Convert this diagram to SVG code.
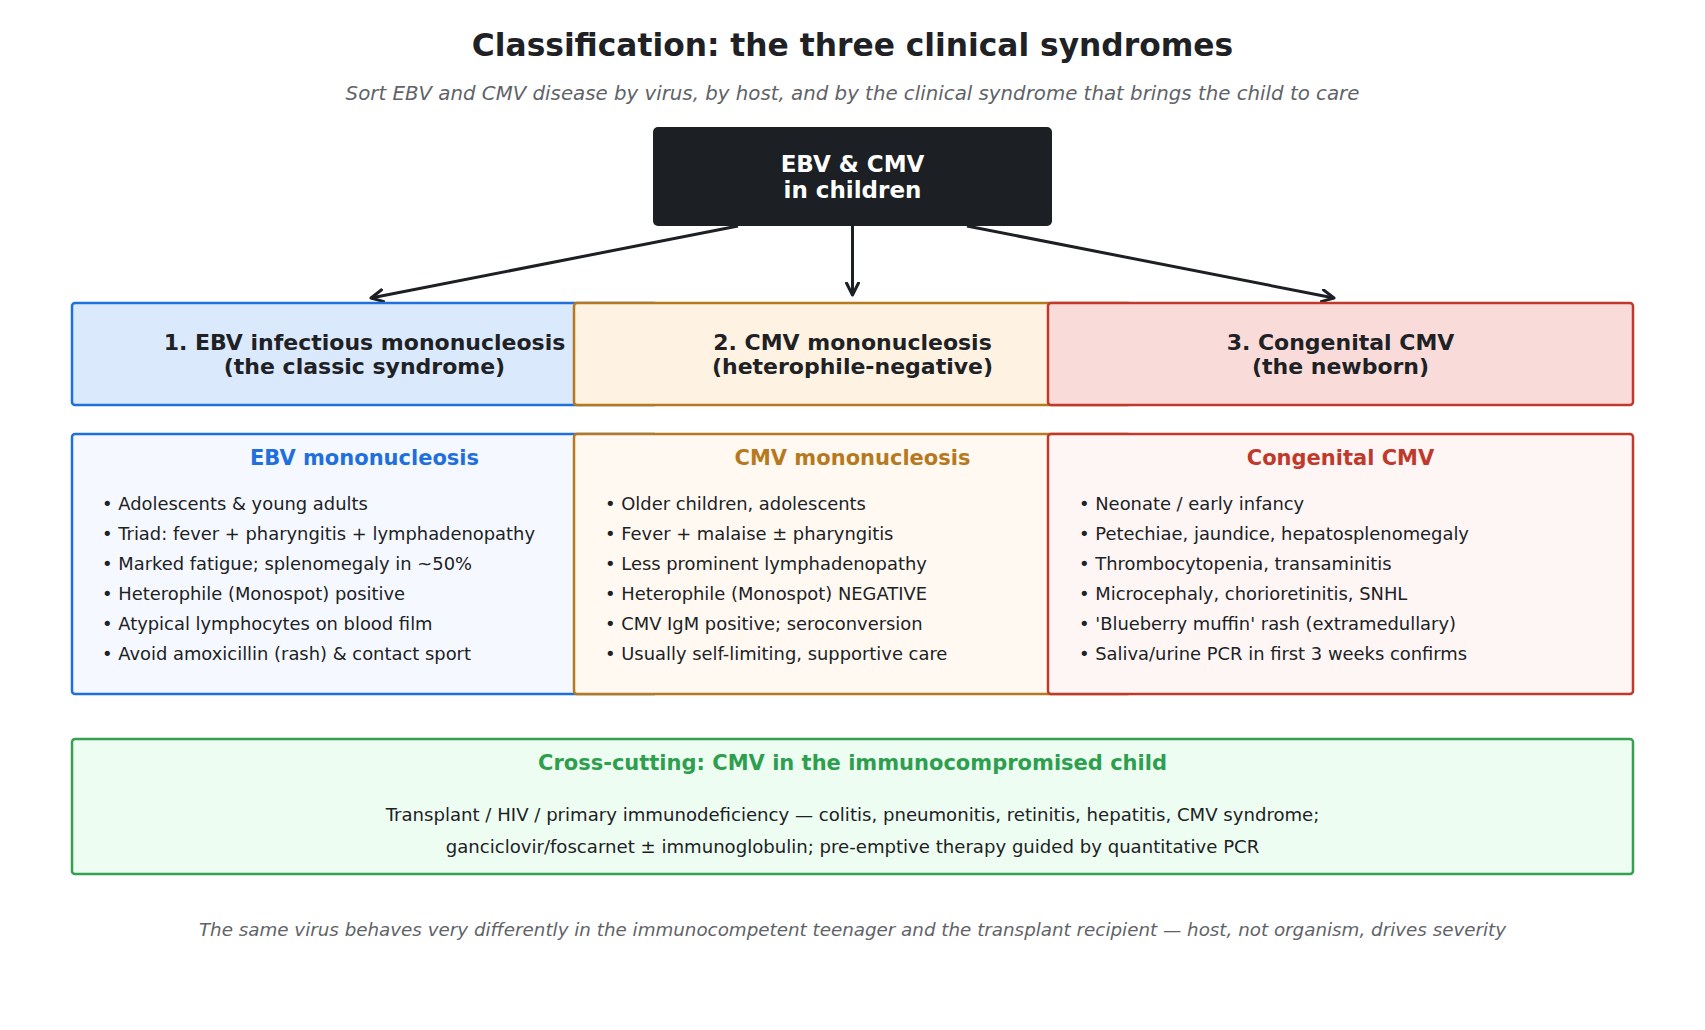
<svg xmlns="http://www.w3.org/2000/svg" width="1705" height="1030" viewBox="0 0 1705 1030">
<defs>
<marker id="arr" markerUnits="userSpaceOnUse" markerWidth="20" markerHeight="20" refX="13" refY="7" orient="auto">
<path d="M1,1 L13,7 L1,13" fill="none" stroke="#1c1f23" stroke-width="3" stroke-linecap="round" stroke-linejoin="round"/>
</marker>
</defs>
<style>
text { font-family: "DejaVu Sans", "Liberation Sans", sans-serif; }
.title { font-size: 31.3px; font-weight: bold; fill: #202124; text-anchor: middle; }
.sub { font-size: 19.8px; font-style: italic; fill: #5f6368; text-anchor: middle; }
.foot { font-size: 18.3px; font-style: italic; fill: #5f6368; text-anchor: middle; }
.root { fill: #1c1f23; }
.roott { font-size: 23px; font-weight: bold; fill: #ffffff; text-anchor: middle; }
.h1 { font-size: 22px; font-weight: bold; fill: #202124; text-anchor: middle; }
.dh { font-size: 21px; font-weight: bold; text-anchor: middle; }
.li { font-size: 17.9px; fill: #202124; }
.body { font-size: 18.1px; fill: #202124; text-anchor: middle; }
.box { stroke-width: 2.5; }
.blue { stroke: #1f6fdc; }
.orange { stroke: #b7791f; }
.red { stroke: #c0392b; }
.green { stroke: #34a050; }
.conn { stroke: #1c1f23; stroke-width: 3; fill: none; }
</style>
<rect width="1705" height="1030" fill="#ffffff"/>
<text class="title" x="852.5" y="56">Classification: the three clinical syndromes</text>
<text class="sub" x="852.5" y="100">Sort EBV and CMV disease by virus, by host, and by the clinical syndrome that brings the child to care</text>

<g id="connectors">
<path class="conn" d="M738,226 L371,298" marker-end="url(#arr)"/>
<path class="conn" d="M852.5,226 L852.5,295" marker-end="url(#arr)"/>
<path class="conn" d="M967,226 L1334,298" marker-end="url(#arr)"/>
</g>

<g id="root">
<rect class="root" x="653" y="127" width="399" height="99" rx="5"/>
<text class="roott" x="852.5" y="172">EBV &amp; CMV</text>
<text class="roott" x="852.5" y="198">in children</text>
</g>

<g id="syndrome1">
<rect class="box blue" x="72" y="303" width="585" height="102" rx="3" fill="#dbe9fd"/>
<text class="h1" x="364.5" y="350">1. EBV infectious mononucleosis</text>
<text class="h1" x="364.5" y="374">(the classic syndrome)</text>
</g>
<g id="syndrome2">
<rect class="box orange" x="574" y="303" width="557" height="102" rx="3" fill="#fef2e2"/>
<text class="h1" x="852.5" y="350">2. CMV mononucleosis</text>
<text class="h1" x="852.5" y="374">(heterophile-negative)</text>
</g>
<g id="syndrome3">
<rect class="box red" x="1048" y="303" width="585" height="102" rx="3" fill="#f9dcda"/>
<text class="h1" x="1340.5" y="350">3. Congenital CMV</text>
<text class="h1" x="1340.5" y="374">(the newborn)</text>
</g>

<g id="detail1">
<rect class="box blue" x="72" y="434" width="585" height="260" rx="3" fill="#f5f9ff"/>
<text class="dh" x="364.5" y="465" fill="#1f6fdc">EBV mononucleosis</text>
<text class="li" x="102" y="510">• Adolescents &amp; young adults</text>
<text class="li" x="102" y="540">• Triad: fever + pharyngitis + lymphadenopathy</text>
<text class="li" x="102" y="570">• Marked fatigue; splenomegaly in ~50%</text>
<text class="li" x="102" y="600">• Heterophile (Monospot) positive</text>
<text class="li" x="102" y="630">• Atypical lymphocytes on blood film</text>
<text class="li" x="102" y="660">• Avoid amoxicillin (rash) &amp; contact sport</text>
</g>
<g id="detail2">
<rect class="box orange" x="574" y="434" width="557" height="260" rx="3" fill="#fff9f2"/>
<text class="dh" x="852.5" y="465" fill="#b7791f">CMV mononucleosis</text>
<text class="li" x="605" y="510">• Older children, adolescents</text>
<text class="li" x="605" y="540">• Fever + malaise ± pharyngitis</text>
<text class="li" x="605" y="570">• Less prominent lymphadenopathy</text>
<text class="li" x="605" y="600">• Heterophile (Monospot) NEGATIVE</text>
<text class="li" x="605" y="630">• CMV IgM positive; seroconversion</text>
<text class="li" x="605" y="660">• Usually self-limiting, supportive care</text>
</g>
<g id="detail3">
<rect class="box red" x="1048" y="434" width="585" height="260" rx="3" fill="#fdf6f4"/>
<text class="dh" x="1340.5" y="465" fill="#c0392b">Congenital CMV</text>
<text class="li" x="1079" y="510">• Neonate / early infancy</text>
<text class="li" x="1079" y="540">• Petechiae, jaundice, hepatosplenomegaly</text>
<text class="li" x="1079" y="570">• Thrombocytopenia, transaminitis</text>
<text class="li" x="1079" y="600">• Microcephaly, chorioretinitis, SNHL</text>
<text class="li" x="1079" y="630">• 'Blueberry muffin' rash (extramedullary)</text>
<text class="li" x="1079" y="660">• Saliva/urine PCR in first 3 weeks confirms</text>
</g>

<g id="crosscutting">
<rect class="box green" x="72" y="739" width="1561" height="135" rx="3" fill="#edfdf1"/>
<text class="dh" x="852.5" y="770" fill="#2e9e4f">Cross-cutting: CMV in the immunocompromised child</text>
<text class="body" x="852.5" y="821">Transplant / HIV / primary immunodeficiency — colitis, pneumonitis, retinitis, hepatitis, CMV syndrome;</text>
<text class="body" x="852.5" y="853">ganciclovir/foscarnet ± immunoglobulin; pre-emptive therapy guided by quantitative PCR</text>
</g>

<text class="foot" x="852.5" y="936">The same virus behaves very differently in the immunocompetent teenager and the transplant recipient — host, not organism, drives severity</text>
</svg>
